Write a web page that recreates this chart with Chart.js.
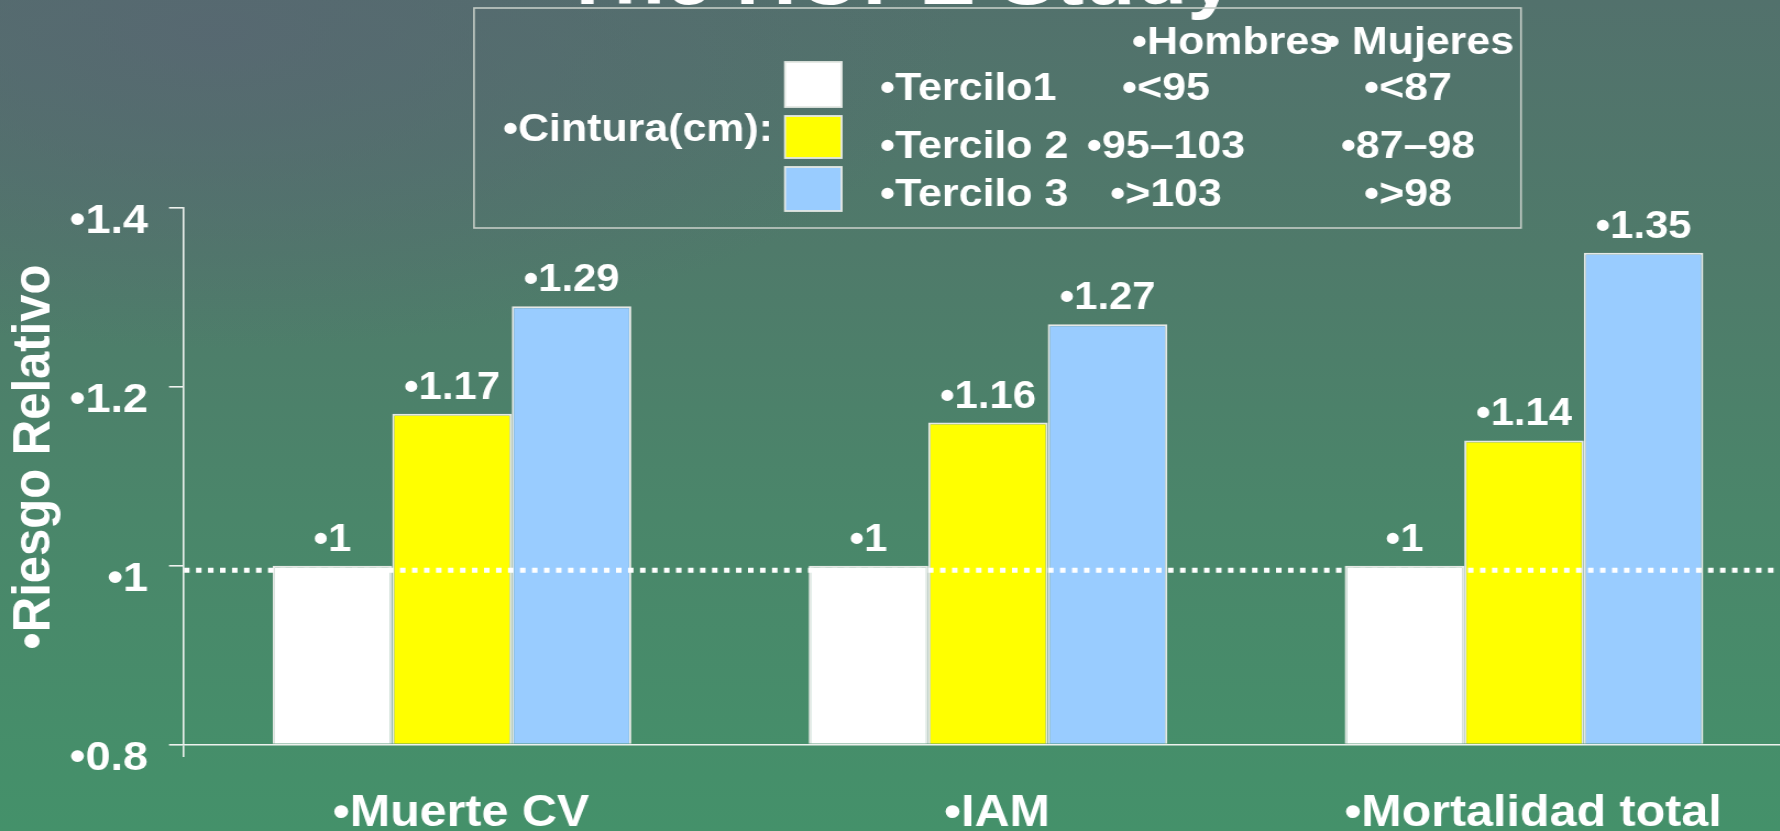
<!DOCTYPE html>
<html><head><meta charset="utf-8">
<script src="https://cdn.jsdelivr.net/npm/chart.js@4"></script>
<style>
html,body{margin:0;padding:0;overflow:hidden;background:#4a8068;}
#wrap{position:relative;width:1780px;height:831px;overflow:hidden;
background: radial-gradient(ellipse 42% 38% at 12% 4%, rgba(88,102,114,0.8), rgba(88,102,114,0) 100%), linear-gradient(180deg,#52716c 0%,#4f7a6a 30%,#4a866a 62%,#44916a 100%);}
#c{display:block;width:1640px;height:831px;transform:scaleX(1.1);transform-origin:0 0;}
</style></head><body>
<div id="wrap"><canvas id="c" width="1640" height="831"></canvas></div>
<script>
const CHART_TITLE = 'The HOPE Study';
const CATEGORIES = ['Muerte CV', 'IAM', 'Mortalidad total'];
const SERIES_NAMES = ['Tercilo1', 'Tercilo 2', 'Tercilo 3'];
const TERCILE_1 = [1, 1, 1];
const TERCILE_2 = [1.17, 1.16, 1.14];
const TERCILE_3 = [1.29, 1.27, 1.35];
const LEGEND_TITLE = 'Cintura(cm):';
const LEGEND_HEADERS = ['Hombres', ' Mujeres'];
const HOMBRES_CM = ['<95', '95–103', '>103'];
const MUJERES_CM = ['<87', '87–98', '>98'];
const Y_AXIS_TITLE = 'Riesgo Relativo';
const Y_TICK_VALUES = [0.8, 1, 1.2, 1.4];
const Y_TICK_LABELS = ['0.8', '1', '1.2', '1.4'];
const REFERENCE_VALUE = 0.995;
const Y_MIN = 0.8, Y_MAX = 1.4;

const SX = 1.1;                 // horizontal stretch applied to the canvas by CSS
const px = x => x / SX;         // screen x -> canvas x
const FONT = "'Liberation Sans', Arial, sans-serif";
const BULLET = '•';
const COLORS = ['#ffffff', '#ffff00', '#99ccff'];
const AXIS_COLOR = '#eef2ee';

const decorPlugin = {
  id: 'decor',
  beforeDraw(chart) {
    const ctx = chart.ctx;
    ctx.save();
    ctx.fillStyle = '#ffffff';
    // title (mostly above the frame)
    ctx.font = 'bold 77px ' + FONT;
    ctx.textAlign = 'center';
    ctx.textBaseline = 'alphabetic';
    ctx.fillText(CHART_TITLE, px(898), 4);
    // y axis title
    ctx.save();
    ctx.translate(px(49), 457);
    ctx.rotate(-Math.PI / 2);
    ctx.font = 'bold 49px ' + FONT;
    ctx.textAlign = 'center';
    ctx.fillText(BULLET + Y_AXIS_TITLE, 0, 0);
    ctx.restore();
    ctx.restore();
  },
  afterDatasetsDraw(chart) {
    const ctx = chart.ctx;
    const ca = chart.chartArea;
    // dotted reference line
    const yRef = chart.scales.y.getPixelForValue(REFERENCE_VALUE);
    ctx.save();
    ctx.strokeStyle = '#ffffff';
    ctx.lineWidth = 5;
    ctx.setLineDash([px(5.5), px(6.5)]);
    ctx.beginPath();
    ctx.moveTo(ca.left, yRef);
    ctx.lineTo(px(1775), yRef);
    ctx.stroke();
    ctx.restore();
    // value labels
    ctx.save();
    ctx.fillStyle = '#ffffff';
    ctx.font = 'bold 38px ' + FONT;
    ctx.textAlign = 'center';
    ctx.textBaseline = 'alphabetic';
    chart.data.datasets.forEach((ds, i) => {
      const meta = chart.getDatasetMeta(i);
      meta.data.forEach((bar, j) => {
        ctx.fillText(BULLET + ds.data[j], bar.x, bar.y - 15);
      });
    });
    ctx.restore();
  },
  afterDraw(chart) {
    const ctx = chart.ctx;
    ctx.save();
    // legend frame
    ctx.strokeStyle = '#c4ccc6';
    ctx.lineWidth = 1.6;
    ctx.strokeRect(px(474), 8, px(1521) - px(474), 220);
    ctx.fillStyle = '#ffffff';
    ctx.textBaseline = 'alphabetic';
    // legend title
    ctx.font = 'bold 39px ' + FONT;
    ctx.textAlign = 'left';
    ctx.fillText(BULLET + LEGEND_TITLE, px(503), 141);
    // headers
    ctx.font = 'bold 39px ' + FONT;
    ctx.fillText(BULLET + LEGEND_HEADERS[0], px(1132), 54);
    ctx.fillText(BULLET + LEGEND_HEADERS[1], px(1325), 54);
    // swatches and rows
    const sw = [[62, 107], [116, 158], [167, 211]];
    const base = [100, 158, 206];
    chart.data.datasets.forEach((ds, i) => {
      ctx.fillStyle = ds.backgroundColor;
      ctx.fillRect(px(785), sw[i][0], px(841.6) - px(785), sw[i][1] - sw[i][0]);
      ctx.strokeStyle = '#e4e8e4';
      ctx.lineWidth = 1.8;
      ctx.strokeRect(px(785), sw[i][0], px(841.6) - px(785), sw[i][1] - sw[i][0]);
      ctx.fillStyle = '#ffffff';
      ctx.font = 'bold 39px ' + FONT;
      ctx.textAlign = 'left';
      ctx.fillText(BULLET + ds.label, px(880), base[i]);
      ctx.textAlign = 'center';
      ctx.fillText(BULLET + HOMBRES_CM[i], px(1166), base[i]);
      ctx.fillText(BULLET + MUJERES_CM[i], px(1408), base[i]);
    });
    ctx.restore();
  }
};

new Chart(document.getElementById('c'), {
  type: 'bar',
  data: {
    labels: CATEGORIES,
    datasets: [
      { label: SERIES_NAMES[0], data: TERCILE_1, backgroundColor: COLORS[0] },
      { label: SERIES_NAMES[1], data: TERCILE_2, backgroundColor: COLORS[1] },
      { label: SERIES_NAMES[2], data: TERCILE_3, backgroundColor: COLORS[2] }
    ]
  },
  options: {
    responsive: false,
    devicePixelRatio: 1,
    animation: false,
    layout: { padding: { top: 208, right: 1640 - px(1792), left: 0, bottom: 0 } },
    datasets: {
      bar: {
        base: Y_MIN,
        categoryPercentage: 0.669,
        barPercentage: 1.0,
        borderColor: '#e6e9e6',
        borderWidth: 2,
        borderSkipped: 'start'
      }
    },
    plugins: { legend: { display: false }, tooltip: { enabled: false }, title: { display: false } },
    scales: {
      x: {
        afterFit(scale) { scale.height = 831 - 744.5; },
        border: { display: true, color: AXIS_COLOR, width: 1.6 },
        grid: {
          display: true,
          drawOnChartArea: false,
          drawTicks: true,
          tickLength: 12.5,
          color: (c) => c.index === 0 ? AXIS_COLOR : 'rgba(0,0,0,0)',
          lineWidth: 1.6
        },
        ticks: {
          color: '#ffffff',
          font: { family: FONT, size: 44, weight: 'bold' },
          padding: 30,
          labelOffset: px(9),
          maxRotation: 0,
          callback: (v, i) => BULLET + CATEGORIES[i]
        }
      },
      y: {
        min: Y_MIN,
        max: Y_MAX,
        afterFit(scale) { scale.width = px(184); },
        afterBuildTicks(scale) { scale.ticks = Y_TICK_VALUES.map(v => ({ value: v })); },
        border: { display: true, color: AXIS_COLOR, width: 1.6 },
        grid: {
          display: true,
          drawOnChartArea: false,
          drawTicks: true,
          tickLength: px(15),
          color: AXIS_COLOR,
          lineWidth: 1.6
        },
        ticks: {
          color: '#ffffff',
          font: { family: FONT, size: 41, weight: 'bold' },
          padding: 19,
          labelOffset: 14,
          callback: (v, i) => BULLET + Y_TICK_LABELS[i]
        }
      }
    }
  },
  plugins: [decorPlugin]
});
</script>
</body></html>
